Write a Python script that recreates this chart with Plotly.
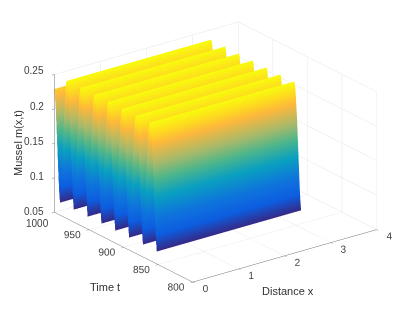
import plotly.graph_objects as go

distance_x = [0, 0.5, 1, 1.5, 2, 2.5, 3, 3.14]
time_t = [852, 853, 854, 856, 858, 860, 861, 862, 863, 864, 866, 868, 870, 871,
          872, 873, 874, 876, 878, 880, 881, 882, 883, 884, 886, 888, 890, 891,
          892, 893, 894, 896, 898, 900, 901, 902, 903, 904, 906, 908, 910, 911,
          912, 913, 914, 916, 918, 920, 921, 922, 923, 924, 926, 928, 930, 931,
          932, 933, 934, 936, 938, 940, 941, 942, 943, 944, 946, 948, 950, 951,
          952, 953, 954, 956, 958, 960, 961, 962, 963, 964, 966, 968, 970, 971,
          972, 973, 974, 976, 978, 980, 981, 982, 983, 984, 986, 988, 990, 991,
          992, 993, 994, 996, 998, 1000]
mussel_m = [0.068, 0.081, 0.1, 0.15, 0.2, 0.237, 0.247, 0.25, 0.247, 0.237, 0.2, 0.15, 0.1, 0.081,
            0.068, 0.081, 0.1, 0.15, 0.2, 0.237, 0.247, 0.25, 0.247, 0.237, 0.2, 0.15, 0.1, 0.081,
            0.068, 0.081, 0.1, 0.15, 0.2, 0.237, 0.247, 0.25, 0.247, 0.237, 0.2, 0.15, 0.1, 0.081,
            0.068, 0.081, 0.1, 0.15, 0.2, 0.237, 0.247, 0.25, 0.247, 0.237, 0.2, 0.15, 0.1, 0.081,
            0.068, 0.081, 0.1, 0.15, 0.2, 0.237, 0.247, 0.25, 0.247, 0.237, 0.2, 0.15, 0.1, 0.081,
            0.068, 0.081, 0.1, 0.15, 0.2, 0.237, 0.247, 0.25, 0.247, 0.237, 0.2, 0.15, 0.1, 0.081,
            0.068, 0.081, 0.1, 0.15, 0.2, 0.237, 0.247, 0.25, 0.247, 0.237, 0.2, 0.15, 0.1, 0.081,
            0.068, 0.081, 0.1, 0.15, 0.2, 0.229]
x_ticks = [0, 1, 2, 3, 4]
t_ticks = [800, 850, 900, 950, 1000]
t_labels = ["800", "850", "900", "950", ""]
z_ticks = [0.05, 0.1, 0.15, 0.2, 0.25]
z_labels = ["0.05", "0.1", "0.15", "0.2", "0.25"]

parula = [[0.0, "#352a87"], [0.12, "#0d5de0"], [0.25, "#0e74dc"], [0.42, "#0aa0c0"],
          [0.56, "#4fb68a"], [0.68, "#a5b96c"], [0.83, "#fdb83c"], [0.92, "#fddc1e"], [1.0, "#f9fb0e"]]

z_grid = [list(mussel_m) for _ in distance_x]
z_grid = [list(r) for r in zip(*z_grid)]

fig = go.Figure(go.Surface(
    x=distance_x, y=time_t, z=z_grid, colorscale=parula, cmin=0.068, cmax=0.25,
    showscale=False, hoverinfo="skip",
    lighting=dict(ambient=1, diffuse=0, specular=0, roughness=1, fresnel=0),
    contours=dict(x=dict(highlight=False), y=dict(highlight=False), z=dict(highlight=False)),
))

def ax(rng, ticks, labels=None, show=True):
    d = dict(range=rng, tickvals=ticks, showbackground=False, gridcolor="#e6e6e6", gridwidth=1,
             showline=True, linecolor="#707070", linewidth=1, ticks="outside", ticklen=3,
             tickangle=0, showticklabels=show,
             tickcolor="#707070", tickfont=dict(family="Liberation Sans", size=11, color="#404040"),
             zeroline=False, showspikes=False, title=dict(text=""))
    if labels:
        d["ticktext"] = labels
    return d

# the page body adds an 8 px offset, so overlay text is placed 8 px up and left
label_font = dict(family="Liberation Sans", size=10, color="#404040")
title_font = dict(family="Liberation Sans", size=11, color="#303030")
notes = [
    dict(text="Distance x", x=280, y=283, font=title_font),
    dict(text="Time t", x=97, y=279, font=title_font),
    dict(text="Mussel m(x,t)", x=10, y=135, textangle=-90, font=title_font),
    dict(text="1000", x=29, y=215, font=label_font),
]
for i, s in enumerate(z_labels):
    notes.append(dict(text=s, x=38, y=203 - 35 * i, xanchor="right", font=label_font))
for a in notes:
    a["x"] = a["x"] / 415
    a["y"] = 1 - a["y"] / 312
    a.setdefault("xanchor", "center")
    a.update(yanchor="middle", xref="paper", yref="paper", showarrow=False)

fig.update_layout(
    width=415, height=312, margin=dict(l=0, r=0, t=0, b=0), paper_bgcolor="white",
    showlegend=False,
    scene=dict(
        domain=dict(x=[0, 1], y=[0, 1]),
        xaxis=ax([0, 4], x_ticks),
        yaxis=ax([800, 1000], t_ticks, t_labels),
        zaxis=ax([0.05, 0.25], z_ticks, show=False),
        aspectmode="manual", aspectratio=dict(x=1.475, y=1.475, z=0.955),
        camera=dict(projection=dict(type="orthographic"),
                    eye=dict(x=-1.0, y=-1.33, z=0.60), up=dict(x=0, y=0, z=1),
                    center=dict(x=0, y=0, z=-0.083)),
    ),
    annotations=notes,
)

fig.write_html("out.html")
